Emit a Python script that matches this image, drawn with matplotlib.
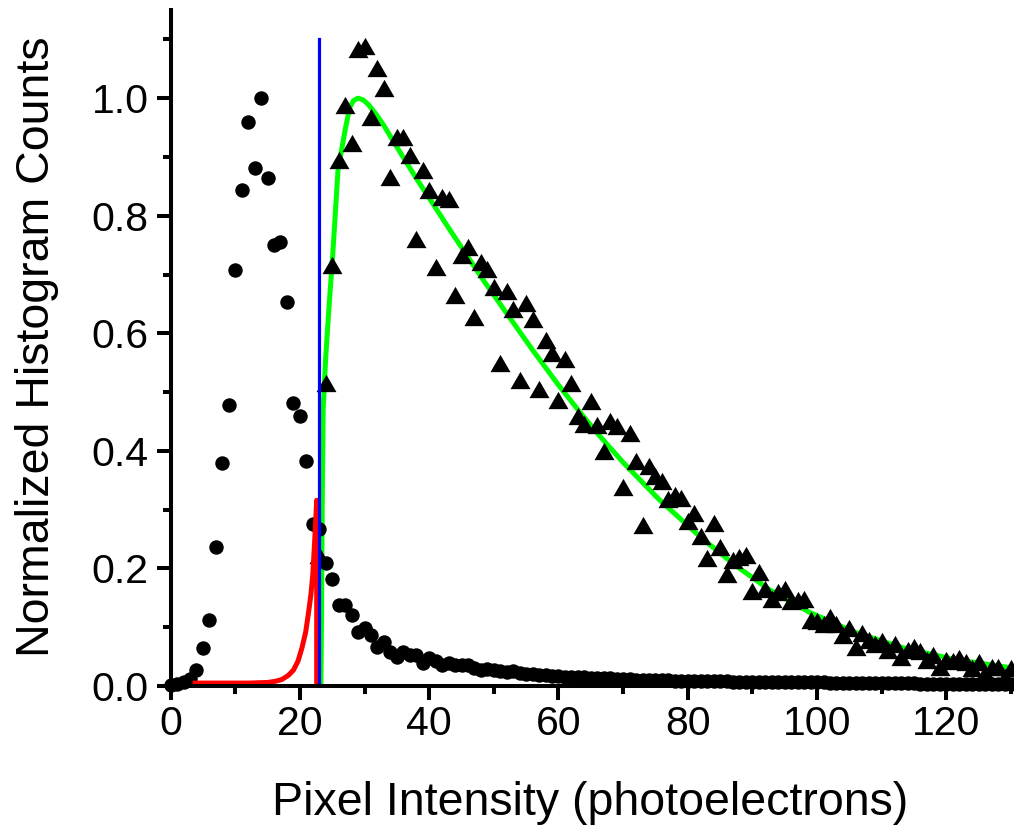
import matplotlib
matplotlib.use("Agg")
import matplotlib.pyplot as plt
from matplotlib.ticker import MultipleLocator, FormatStrFormatter
from matplotlib.path import Path

plt.rcParams['font.family'] = ['Liberation Sans', 'DejaVu Sans']

# ---- data ----
circle_x = list(range(0, 131))
circle_y = [0.002, 0.004, 0.007, 0.012, 0.028, 0.064, 0.112, 0.237, 0.379, 0.478,
            0.707, 0.844, 0.959, 0.882, 1.000, 0.865, 0.751, 0.756, 0.654, 0.481,
            0.460, 0.383, 0.276, 0.267, 0.210, 0.182, 0.138, 0.137, 0.120, 0.092,
            0.098, 0.087, 0.067, 0.075, 0.058, 0.050, 0.058, 0.053, 0.053, 0.039,
            0.047, 0.042, 0.035, 0.039, 0.035, 0.035, 0.035, 0.030, 0.027, 0.029,
            0.027, 0.026, 0.023, 0.025, 0.022, 0.021, 0.020, 0.019, 0.019, 0.017,
            0.017, 0.016, 0.016, 0.015, 0.015, 0.014, 0.014, 0.013, 0.013, 0.012,
            0.012, 0.012, 0.011, 0.011, 0.011, 0.010, 0.010, 0.010, 0.009, 0.009,
            0.009, 0.009, 0.008, 0.008, 0.008, 0.008, 0.008, 0.007, 0.007, 0.007,
            0.007, 0.007, 0.007, 0.006, 0.006, 0.006, 0.006, 0.006, 0.006, 0.006,
            0.006, 0.006, 0.005, 0.005, 0.005, 0.005, 0.005, 0.005, 0.005, 0.005,
            0.005, 0.005, 0.005, 0.005, 0.005, 0.005, 0.004, 0.004, 0.004, 0.004,
            0.004, 0.004, 0.004, 0.004, 0.004, 0.004, 0.004, 0.004, 0.004, 0.004,
            0.004]

tri_x = list(range(23, 131))
tri_y = [0.223, 0.515, 0.716, 0.895, 0.988, 0.923, 1.084, 1.088, 0.968, 1.052,
         1.018, 0.866, 0.934, 0.934, 0.903, 0.760, 0.878, 0.844, 0.712, 0.832,
         0.828, 0.665, 0.733, 0.747, 0.628, 0.722, 0.710, 0.678, 0.550, 0.672,
         0.642, 0.520, 0.651, 0.624, 0.506, 0.588, 0.566, 0.486, 0.556, 0.516,
         0.459, 0.446, 0.484, 0.444, 0.400, 0.451, 0.443, 0.339, 0.431, 0.383,
         0.274, 0.374, 0.358, 0.349, 0.318, 0.325, 0.320, 0.280, 0.295, 0.255,
         0.217, 0.277, 0.237, 0.191, 0.214, 0.219, 0.223, 0.161, 0.194, 0.165,
         0.148, 0.160, 0.165, 0.144, 0.146, 0.148, 0.113, 0.110, 0.105, 0.118,
         0.105, 0.087, 0.099, 0.067, 0.090, 0.079, 0.072, 0.076, 0.062, 0.071,
         0.050, 0.061, 0.066, 0.060, 0.045, 0.053, 0.032, 0.044, 0.043, 0.048,
         0.041, 0.030, 0.041, 0.022, 0.032, 0.032, 0.015, 0.030]

red_x = [3.8, 8.0, 12.0, 15.0, 16.2, 17.2, 18.2, 19.0, 19.7, 20.3, 20.9, 21.3,
         21.7, 22.0, 22.3, 22.6, 22.6]
red_y = [0.005, 0.005, 0.005, 0.006, 0.008, 0.011, 0.018, 0.027, 0.042, 0.064,
         0.092, 0.122, 0.155, 0.190, 0.250, 0.316, 0.0]

green_x = [23.25, 23.35, 23.45, 23.6, 24.0, 24.4, 25.1, 25.9, 27.0, 27.7, 28.3,
           29.0, 29.8, 30.6, 31.7, 32.9, 35.5, 38.1, 40.6, 43.2, 48.4, 52.5, 56.1,
           60.0, 63.3, 66.4, 70.2, 75.5, 82.1, 87.4, 92.6, 98.9, 105.7, 113.6,
           121.4, 130.0]
green_y = [0.0, 0.12, 0.30, 0.47, 0.56, 0.628, 0.737, 0.878, 0.946, 0.984, 0.996,
           1.000, 0.997, 0.989, 0.974, 0.955, 0.908, 0.862, 0.820, 0.776, 0.690,
           0.626, 0.570, 0.512, 0.466, 0.425, 0.378, 0.318, 0.252, 0.205, 0.164,
           0.125, 0.092, 0.064, 0.045, 0.031]

blue_x = [22.9, 22.9]
blue_y = [0.0, 1.10]

x_ticks = [0, 20, 40, 60, 80, 100, 120]
y_ticks = [0.0, 0.2, 0.4, 0.6, 0.8, 1.0]

# ---- figure ----
W, H = 1014, 831
fig = plt.figure(figsize=(W / 100, H / 100), dpi=100)
left_px, right_px, bottom_px, top_px = 170.6, 1011.0, 686.0, 10.0
ax = fig.add_axes([left_px / W, (H - bottom_px) / H,
                   (right_px - left_px) / W, (bottom_px - top_px) / H])

tri_marker = Path([(-1, -0.866), (1, -0.866), (0, 0.866), (-1, -0.866)],
                  [Path.MOVETO, Path.LINETO, Path.LINETO, Path.CLOSEPOLY])

ax.plot(green_x, green_y, color='#00ff00', lw=3.6, zorder=2,
        solid_joinstyle='round')
ax.plot(tri_x, tri_y, linestyle='none', marker=tri_marker, ms=14.4,
        color='black', mec='black', mew=0, zorder=3, clip_on=False)
ax.plot(circle_x, circle_y, linestyle='none', marker='o', ms=10.4,
        color='black', mec='black', mew=0, zorder=3, clip_on=False)
ax.plot(red_x, red_y, color='#ff0000', lw=3.6, zorder=4, solid_joinstyle='round')
ax.plot(blue_x, blue_y, color='#0000ff', lw=2.3, zorder=5)

ax.set_xlim(0, 130)
ax.set_ylim(0, 1.15)
ax.set_xticks(x_ticks)
ax.set_yticks(y_ticks)
ax.xaxis.set_minor_locator(MultipleLocator(10))
ax.yaxis.set_minor_locator(MultipleLocator(0.1))
ax.yaxis.set_major_formatter(FormatStrFormatter('%.1f'))

for s in ['top', 'right']:
    ax.spines[s].set_visible(False)
for s in ['left', 'bottom']:
    ax.spines[s].set_linewidth(2.9)
    ax.spines[s].set_zorder(6)

ax.tick_params(which='major', direction='out', length=10, width=2.9,
               labelsize=29.5, pad=4)
ax.tick_params(which='minor', direction='out', length=5.5, width=2.9)
ax.tick_params(axis='y', which='major', pad=6)

fig.text(590 / W, (H - 815) / H, 'Pixel Intensity (photoelectrons)',
         ha='center', va='baseline', fontsize=33.5)
fig.text(37 / W, (H - 347) / H, 'Normalized Histogram Counts',
         ha='center', va='center', rotation=90, fontsize=33.5)

fig.savefig('out.png', dpi=100)
